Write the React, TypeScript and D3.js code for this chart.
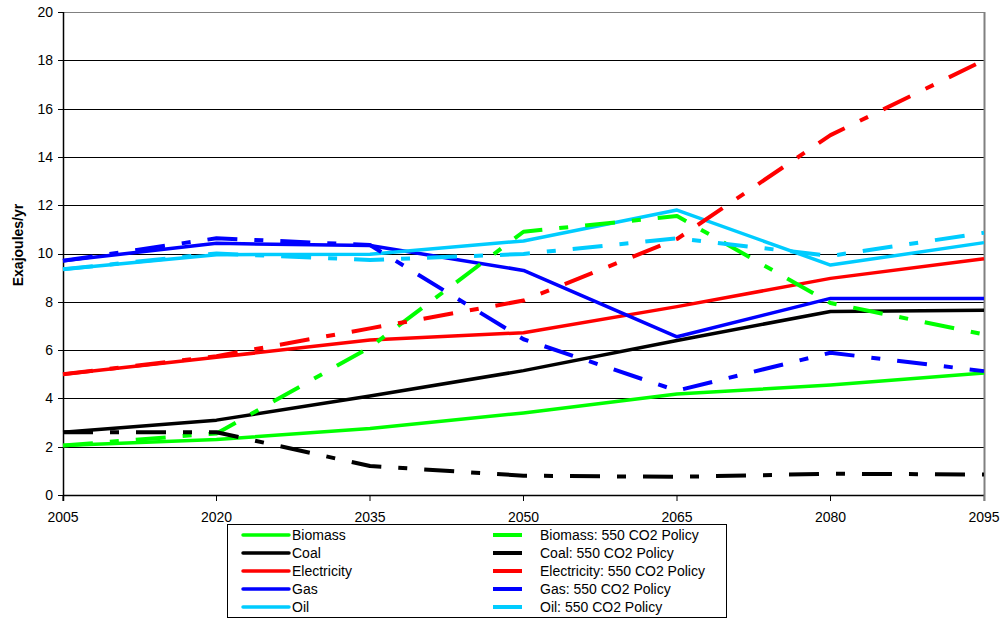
import React from "react";
import * as d3 from "d3";

const years = [2005, 2020, 2035, 2050, 2065, 2080, 2095];
const yTicks = [0, 2, 4, 6, 8, 10, 12, 14, 16, 18, 20];

const biomass = [2.05, 2.3, 2.75, 3.4, 4.18, 4.55, 5.05];
const coal = [2.6, 3.1, 4.1, 5.15, 6.4, 7.6, 7.65];
const electricity = [5.0, 5.7, 6.42, 6.72, 7.8, 8.97, 9.78];
const gas = [9.7, 10.42, 10.33, 9.3, 6.55, 8.14, 8.14];
const oil = [9.35, 9.95, 9.97, 10.52, 11.8, 9.52, 10.45];

const biomassPolicy = [2.05, 2.55, 6.12, 10.9, 11.55, 7.95, 6.65];
const coalPolicy = [2.6, 2.6, 1.2, 0.8, 0.75, 0.88, 0.85];
const electricityPolicy = [5.0, 5.75, 6.9, 8.05, 10.6, 14.9, 18.0];
const gasPolicy = [9.7, 10.63, 10.35, 6.45, 4.32, 5.89, 5.13];
const oilPolicy = [9.35, 10.0, 9.73, 9.98, 10.63, 9.9, 10.86];

const solidNames = ["Biomass", "Coal", "Electricity", "Gas", "Oil"];
const policyNames = [
  "Biomass: 550 CO2 Policy",
  "Coal: 550 CO2 Policy",
  "Electricity: 550 CO2 Policy",
  "Gas: 550 CO2 Policy",
  "Oil: 550 CO2 Policy",
];
const colors = ["#00FF00", "#000000", "#FF0000", "#0000FF", "#00CCFF"];
const solidSeries = [biomass, coal, electricity, gas, oil];
const policySeries = [biomassPolicy, coalPolicy, electricityPolicy, gasPolicy, oilPolicy];

const DASH = "30 17 9 17";

export default function App() {
  const left = 63, right = 984, top = 12, bottom = 495;
  const x = d3.scaleLinear().domain([2005, 2095]).range([left, right]);
  const y = d3.scaleLinear().domain([0, 20]).range([bottom, top]);
  const line = d3
    .line<number>()
    .x((_, i) => x(years[i]))
    .y((d) => y(d));
  const font = "Liberation Sans, Arial, sans-serif";

  return (
    <svg
      width={1003}
      height={618}
      style={{ position: "absolute", left: 0, top: 0, background: "#fff" }}
      fontFamily={font}
    >
      {/* gridlines */}
      {yTicks.map((t) => (
        <line
          key={"g" + t}
          x1={left}
          x2={right}
          y1={Math.round(y(t)) + 0.5}
          y2={Math.round(y(t)) + 0.5}
          stroke={t === 20 ? "#808080" : "#000"}
          strokeWidth={1}
        />
      ))}
      {/* right border */}
      <line x1={right + 0.5} x2={right + 0.5} y1={top} y2={bottom + 6} stroke="#808080" strokeWidth={2} />
      {/* y axis */}
      <line x1={left + 0.5} x2={left + 0.5} y1={top} y2={bottom + 6} stroke="#000" strokeWidth={1.5} />
      {yTicks.map((t) => (
        <g key={"yt" + t}>
          <line x1={left - 5} x2={left} y1={Math.round(y(t)) + 0.5} y2={Math.round(y(t)) + 0.5} stroke="#000" />
          <text x={left - 10} y={y(t)} dy="0.35em" textAnchor="end" fontSize={14}>
            {t}
          </text>
        </g>
      ))}
      {/* x axis */}
      <line x1={left} x2={right} y1={bottom + 0.5} y2={bottom + 0.5} stroke="#000" strokeWidth={1.5} />
      {years.map((yr) => (
        <g key={"xt" + yr}>
          <line x1={x(yr)} x2={x(yr)} y1={bottom} y2={bottom + 6} stroke={yr === 2095 ? "#808080" : "#000"} />
          <text x={x(yr)} y={bottom + 27} textAnchor="middle" fontSize={14}>
            {yr}
          </text>
        </g>
      ))}
      {/* y title */}
      <text
        transform={`translate(23,245) rotate(-90)`}
        textAnchor="middle"
        fontSize={14}
        fontWeight="bold"
      >
        Exajoules/yr
      </text>
      {/* lines */}
      {solidSeries.map((s, i) => (
        <path key={"s" + i} d={line(s) || ""} fill="none" stroke={colors[i]} strokeWidth={3.5} strokeLinejoin="round" />
      ))}
      {policySeries.map((s, i) => (
        <path
          key={"p" + i}
          d={line(s) || ""}
          fill="none"
          stroke={colors[i]}
          strokeWidth={4}
          strokeDasharray={DASH}
          strokeLinejoin="round"
        />
      ))}
      {/* legend */}
      <rect x={227.5} y={524.5} width={499} height={93} fill="#fff" stroke="#000" strokeWidth={1} />
      {solidNames.map((n, i) => (
        <g key={"l" + i}>
          <line x1={243} x2={289} y1={535 + i * 18} y2={535 + i * 18} stroke={colors[i]} strokeWidth={3.5} strokeLinecap="round" />
          <text x={292} y={535 + i * 18} dy="0.35em" fontSize={14}>
            {n}
          </text>
        </g>
      ))}
      {policyNames.map((n, i) => (
        <g key={"lp" + i}>
          <line x1={493} x2={522} y1={535 + i * 18} y2={535 + i * 18} stroke={colors[i]} strokeWidth={4} />
          <text x={540} y={535 + i * 18} dy="0.35em" fontSize={14}>
            {n}
          </text>
        </g>
      ))}
    </svg>
  );
}
